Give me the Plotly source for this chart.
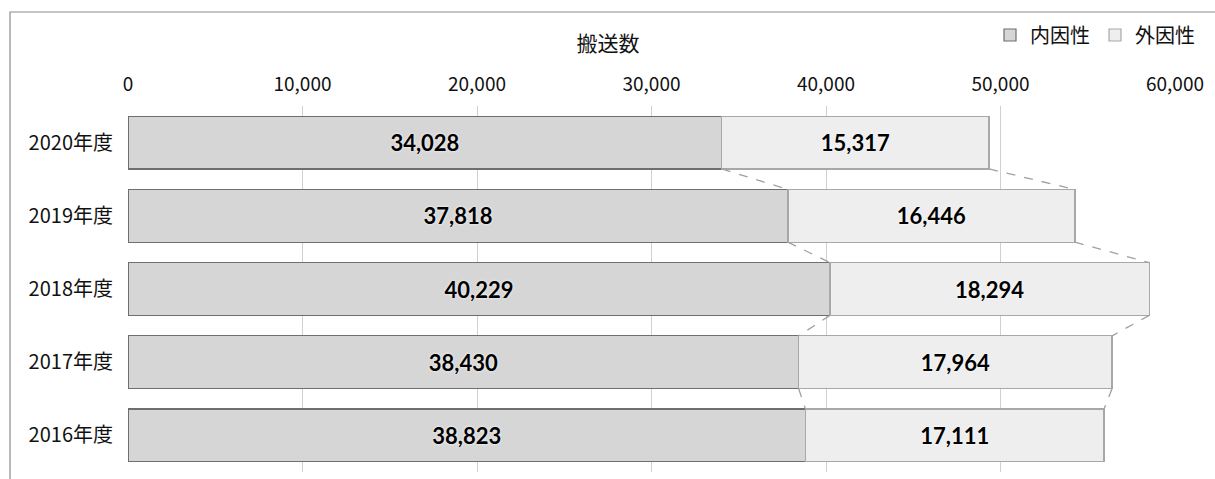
import plotly.graph_objects as go

categories = ["2020年度", "2019年度", "2018年度", "2017年度", "2016年度"]
naiin = [34028, 37818, 40229, 38430, 38823]   # 内因性
gaiin = [15317, 16446, 18294, 17964, 17111]   # 外因性
series_names = ["内因性", "外因性"]
x_ticks = [0, 10000, 20000, 30000, 40000, 50000, 60000]

BAR_W = 0.72
ypos = list(range(len(categories)))
JP = "Noto Sans CJK JP, sans-serif"

fig = go.Figure()

label_font = dict(family="Lato, Noto Sans, sans-serif", size=22, color="black",
                  weight="bold", shadow="0px 0px 3px white")

fig.add_trace(go.Bar(
    y=ypos, x=naiin, orientation="h", name=series_names[0], width=BAR_W,
    marker=dict(color="#d6d6d6", line=dict(color="#6e6e6e", width=1.2)),
    text=[f"{v:,}" for v in naiin], textposition="inside", insidetextanchor="middle",
    textfont=label_font, hoverinfo="x+name",
))
fig.add_trace(go.Bar(
    y=ypos, x=gaiin, orientation="h", name=series_names[1], width=BAR_W,
    marker=dict(color="#eeeeee", line=dict(color="#a8a8a8", width=1.2)),
    text=[f"{v:,}" for v in gaiin], textposition="inside", insidetextanchor="middle",
    textfont=label_font, hoverinfo="x+name",
))

# series lines (dashed connectors between adjacent bars)
half = BAR_W / 2
totals = [a + b for a, b in zip(naiin, gaiin)]
for cum in (naiin, totals):
    for i in range(len(categories) - 1):
        fig.add_trace(go.Scatter(
            x=[cum[i], cum[i + 1]], y=[i + half, i + 1 - half], mode="lines",
            line=dict(color="#a0a0a0", width=1.3, dash="dash"),
            showlegend=False, hoverinfo="skip",
        ))

# outer chart border (left and top visible)
fig.add_shape(type="rect", xref="paper", yref="paper",
              x0=-0.1127, x1=1.2, y0=-0.2, y1=1.2568,
              line=dict(color="#8c8c8c", width=1.2), fillcolor="rgba(0,0,0,0)", layer="below")

fig.update_layout(
    width=1215, height=479,
    margin=dict(l=128, r=40, t=106, b=7, autoexpand=False),
    barmode="stack",
    plot_bgcolor="white", paper_bgcolor="white",
    font=dict(family=JP, size=19, color="black"),
    title=dict(text="搬送数", x=608 / 1215, xref="container", xanchor="center",
               y=1 - 44 / 479, yref="container", yanchor="middle",
               font=dict(size=21, family=JP, color="#111111")),
    xaxis=dict(side="top", range=[0, 60000], tickvals=x_ticks,
               ticktext=[f"{v:,}" for v in x_ticks], automargin=False,
               showgrid=True, gridcolor="#d0d0d0", gridwidth=1,
               zeroline=False, showline=False, ticks="", ticklabelstandoff=10,
               tickfont=dict(size=19, family=JP, color="#111111")),
    yaxis=dict(range=[len(categories) - 0.5, -0.5], tickvals=ypos, ticktext=categories,
               showgrid=False, zeroline=False, showline=False, ticks="",
               ticklabelstandoff=14, automargin=False,
               tickfont=dict(size=20, family=JP, color="#111111")),
    legend=dict(orientation="h", x=1200 / 1215, xref="container", xanchor="right",
                y=1 - 35 / 479, yref="container", yanchor="middle",
                font=dict(size=20, family=JP, color="#111111"),
                itemwidth=30, traceorder="normal", bgcolor="rgba(0,0,0,0)"),
    showlegend=True,
)

fig.write_html("out.html", config={"displayModeBar": False},
               post_script="document.body.style.margin='0';")
